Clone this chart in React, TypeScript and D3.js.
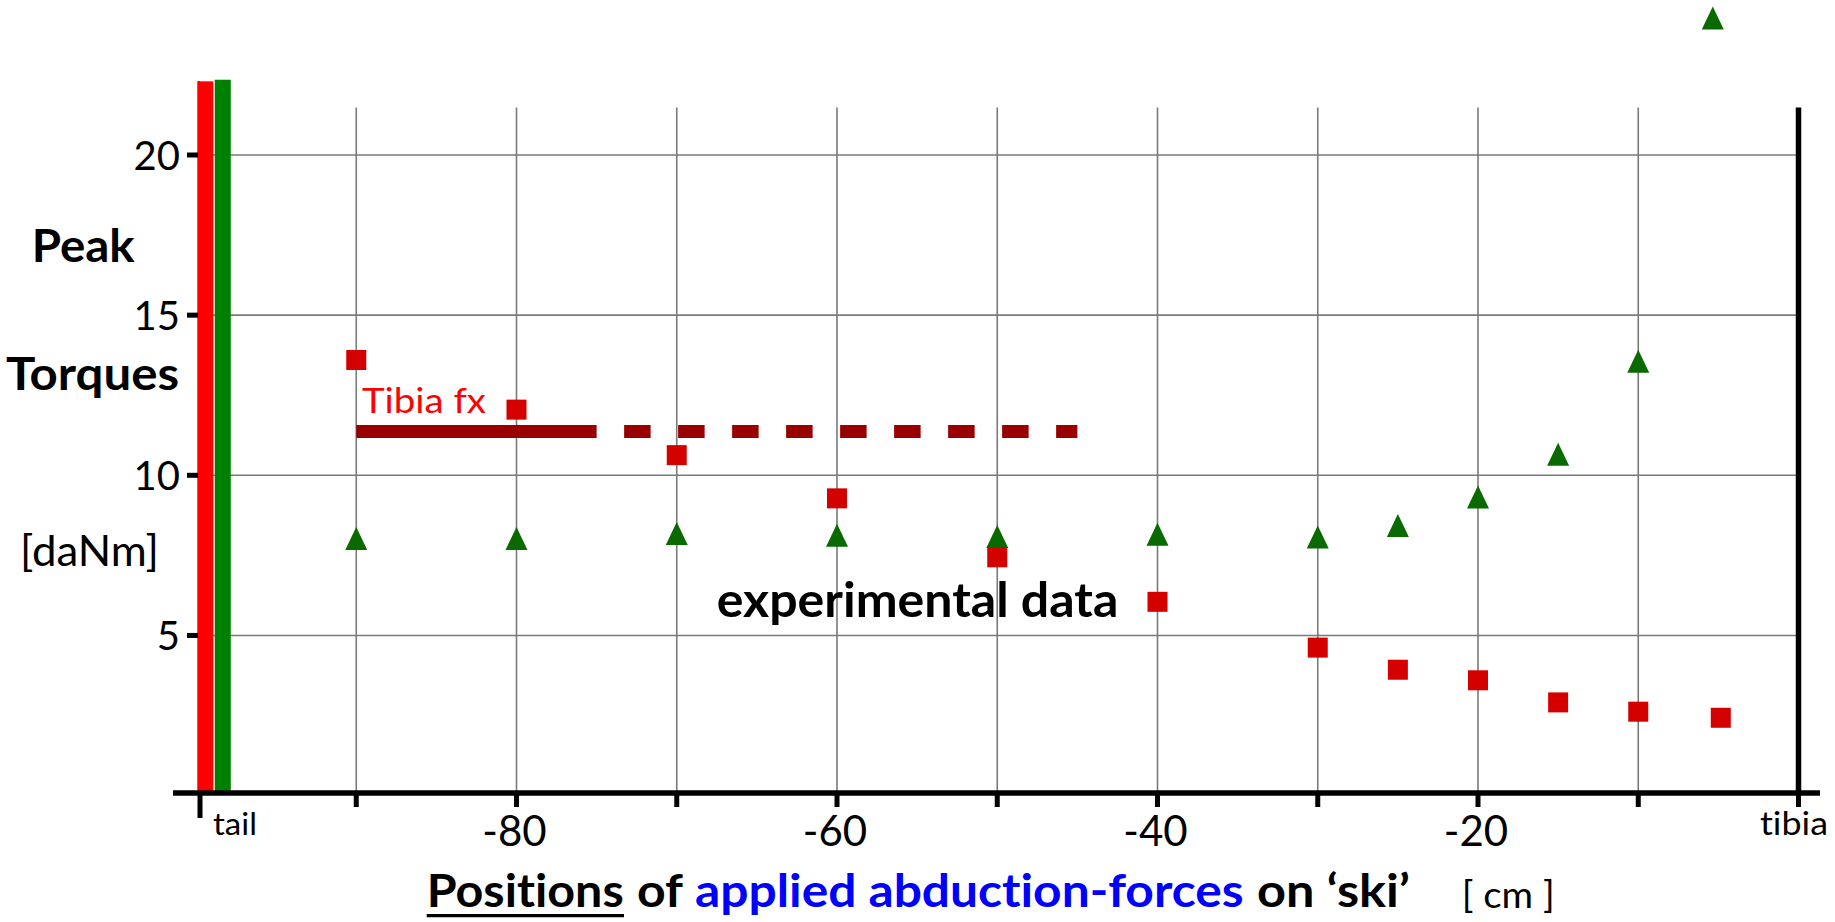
import React from 'react';
import * as d3 from 'd3';

// ---- data ----
const redPositions = [-90, -80, -70, -60, -50, -40, -30, -25, -20, -15, -10, -4.85];
const redTorques = [13.6, 12.05, 10.63, 9.28, 7.44, 6.05, 4.62, 3.93, 3.6, 2.91, 2.62, 2.43];
const greenPositions = [-90, -80, -70, -60, -50, -40, -30, -25, -20, -15, -10, -5.35];
const greenTorques = [8.03, 8.03, 8.18, 8.13, 8.09, 8.16, 8.07, 8.43, 9.32, 10.66, 13.56, 24.28];
const tibiaFxLevel = 11.37;
const tibiaFxSolid = [-90, -75];
const tibiaFxDashed = [-75, -45];
const yTicks = [5, 10, 15, 20];
const xGrid = [-90, -80, -70, -60, -50, -40, -30, -20, -10];
const xTickLabels = [-80, -60, -40, -20];
const tailPosition = -99.75;
const tibiaPosition = 0;
const tailBarCenters = [-99.42, -98.33];
const tailBarValues = [22.3, 22.35];
const tailBarColors = ['#ff0000', '#008000'];

const W = 1835;
const H = 922;

export default function App() {
  const x = d3.scaleLinear().domain([-100, 0]).range([196, 1798.5]);
  const y = d3.scaleLinear().domain([0, 21.48]).range([795.6, 107.6]);
  const axisY = y(0) - 2.6;
  const barW = x(1) - x(0);
  const tri = (cx: number, cy: number) => {
    const w = 22, h = 23;
    const p = d3.path();
    p.moveTo(cx, cy - h / 2);
    p.lineTo(cx + w / 2, cy + h / 2);
    p.lineTo(cx - w / 2, cy + h / 2);
    p.closePath();
    return p.toString();
  };
  const font = 'Lato, "Open Sans", sans-serif';

  return (
    <div style={{ position: 'fixed', left: 0, top: 0, width: W, height: H, background: '#fff' }}>
      <svg width={W} height={H} style={{ display: 'block', fontVariantLigatures: 'none' }} fontFamily={font}>
        <rect width={W} height={H} fill="#fff" />
        {/* horizontal grid */}
        {yTicks.map((t) => (
          <line key={'hg' + t} x1={x(-100)} x2={x(0)} y1={y(t)} y2={y(t)} stroke="#7a7a7a" strokeWidth={1.6} />
        ))}
        {/* vertical grid */}
        {xGrid.map((t) => (
          <line key={'vg' + t} x1={x(t)} x2={x(t)} y1={y(21.48)} y2={axisY} stroke="#7a7a7a" strokeWidth={1.6} />
        ))}
        {/* y axis line (behind bars) */}
        <line x1={x(tailPosition) - 1} x2={x(tailPosition) - 1} y1={y(22.3)} y2={axisY} stroke="#000" strokeWidth={2} />
        {/* tail bars */}
        {tailBarCenters.map((c, i) => (
          <rect key={'bar' + i} x={x(c) - barW / 2} width={barW} y={y(tailBarValues[i])} height={axisY - y(tailBarValues[i])} fill={tailBarColors[i]} />
        ))}
        {/* tibia vertical line */}
        <line x1={x(tibiaPosition)} x2={x(tibiaPosition)} y1={y(21.48)} y2={axisY} stroke="#000" strokeWidth={5.5} />
        {/* x axis */}
        <line x1={173} x2={1820} y1={axisY} y2={axisY} stroke="#000" strokeWidth={5.5} />
        {/* x ticks */}
        {xGrid.concat([tibiaPosition]).map((t) => (
          <line key={'xt' + t} x1={x(t)} x2={x(t)} y1={axisY} y2={807} stroke="#000" strokeWidth={5} />
        ))}
        <line x1={x(tailPosition)} x2={x(tailPosition)} y1={axisY} y2={818} stroke="#000" strokeWidth={5} />
        {/* y ticks */}
        {yTicks.map((t) => (
          <line key={'yt' + t} x1={187} x2={198} y1={y(t)} y2={y(t)} stroke="#000" strokeWidth={5} />
        ))}
        {/* y tick labels */}
        {yTicks.map((t) => (
          <text key={'yl' + t} x={180} y={y(t) + 14.5} textAnchor="end" fontSize={40} fill="#000">{t}</text>
        ))}
        {/* x tick labels */}
        {xTickLabels.map((t) => (
          <text key={'xl' + t} x={x(t) - 2} y={846} textAnchor="middle" fontSize={42} fill="#000">{t}</text>
        ))}
        <text x={213} y={835} fontSize={31} fill="#000" textLength={44} lengthAdjust="spacingAndGlyphs">tail</text>
        <text x={1760} y={835} fontSize={33} fill="#000" textLength={68} lengthAdjust="spacingAndGlyphs">tibia</text>

        {/* Tibia fx line */}
        <line x1={x(tibiaFxSolid[0])} x2={x(tibiaFxSolid[1])} y1={y(tibiaFxLevel)} y2={y(tibiaFxLevel)} stroke="#990000" strokeWidth={13} />
        <line x1={x(tibiaFxDashed[0])} x2={x(tibiaFxDashed[1])} y1={y(tibiaFxLevel)} y2={y(tibiaFxLevel)} stroke="#990000" strokeWidth={13} strokeDasharray="26.5 27.5" strokeDashoffset={26.5} />
        <text x={362} y={413} fontSize={35} fill="#ff0000" textLength={124} lengthAdjust="spacingAndGlyphs">Tibia fx</text>

        {/* green triangles */}
        {greenPositions.map((p, i) => (
          <path key={'g' + i} d={tri(x(p), y(greenTorques[i]))} fill="#0a6a00" />
        ))}
        {/* red squares */}
        {redPositions.map((p, i) => (
          <rect key={'r' + i} x={x(p) - 10} y={y(redTorques[i]) - 10} width={20} height={20} fill="#d40000" />
        ))}

        <text x={716.7} y={616.7} fontSize={48} fontWeight="bold" fill="#000" textLength={401.6} lengthAdjust="spacingAndGlyphs">experimental data</text>

        {/* y axis title */}
        <text x={31.7} y={262.3} fontSize={45} fontWeight="bold" fill="#000" textLength={103} lengthAdjust="spacingAndGlyphs">Peak</text>
        <text x={6} y={390} fontSize={45} fontWeight="bold" fill="#000" textLength={173} lengthAdjust="spacingAndGlyphs">Torques</text>
        <text x={20} y={565.7} fontSize={42} fill="#000" textLength={139} lengthAdjust="spacingAndGlyphs">[daNm]</text>

        {/* x axis title */}
        <text x={426.7} y={906.7} fontSize={45} fontWeight="bold" fill="#000" textLength={197} lengthAdjust="spacingAndGlyphs">Positions</text>
        <line x1={426.7} x2={624} y1={915.6} y2={915.6} stroke="#000" strokeWidth={3.4} />
        <text x={637} y={906.7} fontSize={45} fontWeight="bold" fill="#000" textLength={46} lengthAdjust="spacingAndGlyphs">of</text>
        <text x={695} y={906.7} fontSize={45} fontWeight="bold" fill="#0000ff" textLength={548.6} lengthAdjust="spacingAndGlyphs">applied abduction-forces</text>
        <text x={1257} y={906.7} fontSize={45} fontWeight="bold" fill="#000" textLength={153} lengthAdjust="spacingAndGlyphs">on ‘ski’</text>
        <text x={1461.7} y={908.3} fontSize={36} fill="#000" textLength={93} lengthAdjust="spacingAndGlyphs">[ cm ]</text>
      </svg>
    </div>
  );
}
